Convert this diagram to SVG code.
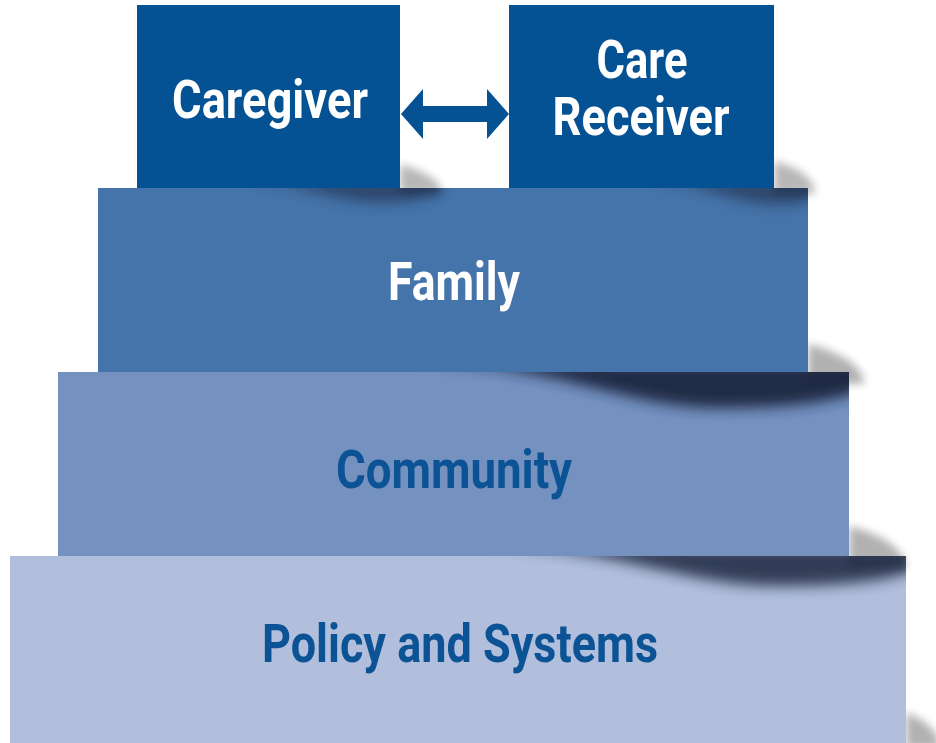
<svg xmlns="http://www.w3.org/2000/svg" width="936" height="743" viewBox="0 0 936 743">
<defs>
<filter id="blur" x="-30%" y="-100%" width="160%" height="300%"><feGaussianBlur stdDeviation="7"/></filter>
<filter id="blur2" x="-50%" y="-100%" width="200%" height="300%"><feGaussianBlur stdDeviation="4"/></filter>
<clipPath id="cFam"><rect x="98" y="188" width="710" height="184"/></clipPath>
<clipPath id="cCom"><rect x="58" y="372" width="791" height="184"/></clipPath>
<clipPath id="cPol"><rect x="10" y="556" width="896" height="187"/></clipPath>
<style>
.lbl{font-family:Roboto,"Liberation Sans",sans-serif;font-weight:bold;font-size:53px;text-anchor:middle}
.w{fill:#ffffff}
.b{fill:#0b5394}
.sh{fill:#1a2540;filter:url(#blur)}
.side{fill:#000000;filter:url(#blur2)}
</style>
</defs>
<rect width="936" height="743" fill="#ffffff"/>
<path class="side" opacity="0.3" d="M906 712 C925 720 940 732 940 748 L906 748 Z"/>
<g id="policy">
<rect x="10" y="556" width="896" height="187" fill="#b1bfdc"/>
<text class="lbl b" x="460" y="662" textLength="396" lengthAdjust="spacingAndGlyphs">Policy and Systems</text>
</g>
<path class="side" opacity="0.3" d="M849 526 C882 534 906 550 906 568 L849 568 Z"/>
<g clip-path="url(#cPol)">
<path class="sh" opacity="0.85" d="M470 546 C620 546 680 586 780 586 C850 586 890 580 915 570 L915 546 Z"/>
</g>
<g id="community">
<rect x="58" y="372" width="791" height="184" fill="#7491c0"/>
<text class="lbl b" x="454" y="488" textLength="236" lengthAdjust="spacingAndGlyphs">Community</text>
</g>
<path class="side" opacity="0.3" d="M808 344 C840 352 864 366 864 384 L808 384 Z"/>
<g clip-path="url(#cCom)">
<path class="sh" opacity="0.95" d="M400 362 C560 362 620 408 720 408 C800 408 840 400 862 390 L862 362 Z"/>
</g>
<g id="family">
<rect x="98" y="188" width="710" height="184" fill="#4574aa"/>
<text class="lbl w" x="454" y="300" textLength="132" lengthAdjust="spacingAndGlyphs">Family</text>
</g>
<path class="side" opacity="0.28" d="M400 164 C422 170 442 180 442 194 L400 194 Z"/>
<path class="side" opacity="0.28" d="M774 161 C797 167 815 178 815 194 L774 194 Z"/>
<g clip-path="url(#cFam)">
<path class="sh" opacity="0.6" d="M230 180 C300 180 330 202 380 202 C410 202 425 198 440 192 L440 180 Z"/>
<path class="sh" opacity="0.6" d="M640 180 C700 180 730 204 780 204 C800 204 812 200 820 194 L820 180 Z"/>
</g>
<g id="caregiver">
<rect x="137" y="5" width="263" height="183" fill="#045193"/>
<text class="lbl w" x="270" y="118" textLength="196" lengthAdjust="spacingAndGlyphs">Caregiver</text>
</g>
<g id="care-receiver">
<rect x="509" y="5" width="265" height="183" fill="#045193"/>
<text class="lbl w" x="642" y="78" textLength="91" lengthAdjust="spacingAndGlyphs">Care</text>
<text class="lbl w" x="641" y="135" textLength="177" lengthAdjust="spacingAndGlyphs">Receiver</text>
</g>
<g id="connectors">
<polygon points="401,114 423,89 423,106 487,106 487,89 509,114 487,139 487,122 423,122 423,139" fill="#045193"/>
</g>
</svg>
